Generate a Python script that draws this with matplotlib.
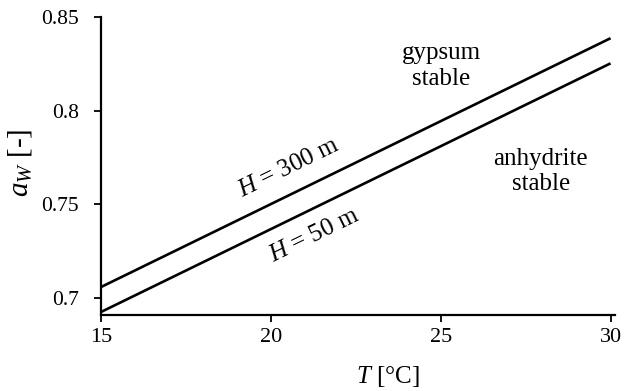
import numpy as np
import matplotlib.pyplot as plt

# Gypsum/anhydrite equilibrium water activity vs. temperature
T = [15, 30]
aw_300 = [0.706, 0.8386]
aw_50 = [0.6927, 0.8252]

xticks = [15, 20, 25, 30]
yticks = [0.7, 0.75, 0.8, 0.85]
ytick_labels = ["0.7", "0.75", "0.8", "0.85"]

plt.rcParams['font.family'] = ['Liberation Serif', 'DejaVu Serif']
plt.rcParams['mathtext.fontset'] = 'custom'
plt.rcParams['mathtext.rm'] = 'Liberation Serif'
plt.rcParams['mathtext.it'] = 'Liberation Serif:italic'

fig = plt.figure(figsize=(6.24, 3.91), dpi=100)
ax = fig.add_axes([0.162, 0.194, 0.823, 0.763])

ax.plot(T, aw_300, color="black", lw=1.9, solid_capstyle="butt")
ax.plot(T, aw_50, color="black", lw=1.9, solid_capstyle="butt")

ax.set_xlim(15, 30.12)
ax.set_ylim(0.691, 0.85)
ax.set_xticks(xticks)
ax.set_yticks(yticks)
ax.set_yticklabels(ytick_labels)
ax.tick_params(direction="out", length=5, width=1.3, labelsize=16, pad=4)
ax.tick_params(axis="y", labelsize=15.5, pad=11)

for s in ["top", "right"]:
    ax.spines[s].set_visible(False)
for s in ["left", "bottom"]:
    ax.spines[s].set_linewidth(1.6)

ax.set_xlabel("$T$ [°C]", fontsize=18)
ax.xaxis.set_label_coords(0.559, -0.165)
ax.set_ylabel("$a_W$ [-]", fontsize=21)
ax.yaxis.set_label_coords(-0.13, 0.51)

ax.text(20.54, 0.7693, "$H$ = 300 m", fontsize=18, rotation=26,
        ha="center", va="center", rotation_mode="anchor")
ax.text(21.27, 0.7334, "$H$ = 50 m", fontsize=18, rotation=26,
        ha="center", va="center", rotation_mode="anchor")
ax.text(25.02, 0.8238, "gypsum\nstable", fontsize=18, ha="center",
        va="center", linespacing=1.2)
ax.text(27.95, 0.7676, "anhydrite\nstable", fontsize=18, ha="center",
        va="center", linespacing=1.2)

fig.savefig("out.png", dpi=100)
